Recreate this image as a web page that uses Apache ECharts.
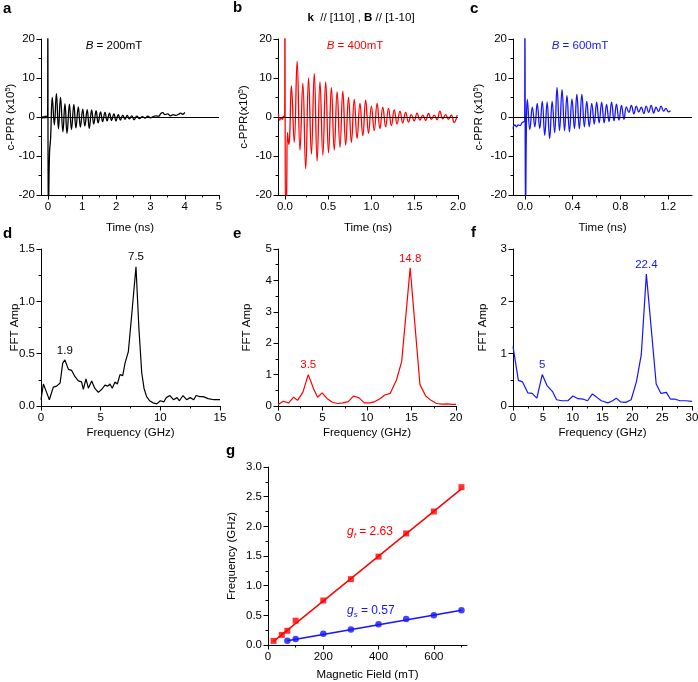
<!DOCTYPE html>
<html><head><meta charset="utf-8">
<script src="https://cdn.jsdelivr.net/npm/echarts@6/dist/echarts.min.js"></script>
<style>html,body{margin:0;padding:0;background:#fff}#c{width:698px;height:682px}</style>
</head><body><div id="c"></div>
<script>
// ---------------- DATA ----------------
// (a) time trace, B = 200 mT  [time (ns), c-PPR (x1e5)]
const traceA = [[-0.17,-0.4],[-0.14,0.1],[-0.11,-0.3],[-0.08,0.2],[-0.05,-0.2],[-0.02,0.3],[-0.005,0.5],[0.0,30],[0.012,-30],[0.03,-18],[0.05,-9],[0.08,-5.5],
 [0.13,5],[0.19,-2],[0.25,6],[0.31,-3],[0.37,5],[0.44,-3.8],[0.50,3.4],[0.56,-4.2],[0.63,3.3],[0.69,-3.2],[0.76,3.2],[0.82,-2.8],[0.89,2.6],[0.95,-2.6],
 [1.02,2.0],[1.08,-2.3],[1.15,1.9],[1.21,-2.9],[1.28,1.8],[1.34,-1.8],[1.41,1.6],[1.47,-1.5],[1.54,1.3],[1.60,-1.2],[1.67,1.2],[1.73,-1.0],[1.80,1.0],
 [1.86,-0.9],[1.93,0.8],[1.99,-1.0],[2.06,0.6],[2.12,-0.8],[2.19,0.5],[2.25,-0.6],[2.32,0.4],[2.38,-0.5],[2.45,0.3],[2.52,-0.7],[2.6,0.2],[2.68,-0.4],
 [2.76,0.1],[2.84,-0.3],[2.92,0.2],[3.0,-0.2],[3.08,0.1],[3.16,0.3],[3.24,0.2],[3.3,0.9],[3.36,1.1],[3.42,0.6],[3.5,0.8],[3.58,0.3],[3.66,0.6],[3.74,0.4],
 [3.82,0.7],[3.88,1.0],[3.94,0.7],[4.0,1.2]];
// (b) time trace, B = 400 mT
const traceB = [[-0.075,0.8],[-0.06,-0.8],[-0.045,-0.2],[-0.03,-0.6],[-0.015,0.2],[-0.003,0.0],[0.0,30],[0.008,-30],[0.02,-19],[0.03,-4],[0.045,-7],[0.055,-5],
 [0.075,8],[0.108,-6.5],[0.141,14.3],[0.174,-8.5],[0.207,8.7],[0.240,-13.3],[0.273,10],[0.306,-9.5],[0.339,11.2],[0.372,-11.3],[0.405,9],[0.438,-9.8],
 [0.471,9],[0.504,-9.2],[0.537,7.5],[0.570,-8.5],[0.603,6.5],[0.636,-7.8],[0.669,6.6],[0.702,-7.2],[0.735,5],[0.768,-6.5],[0.801,4.5],[0.834,-5.5],
 [0.867,3.5],[0.900,-4.8],[0.933,4.3],[0.966,-4.2],[0.999,2.8],[1.032,-3.5],[1.065,3.5],[1.098,-3.0],[1.131,2.5],[1.164,-2.5],[1.197,2.2],[1.230,-2.2],
 [1.263,1.8],[1.296,-1.8],[1.329,1.5],[1.362,-1.5],[1.395,1.2],[1.428,-1.3],[1.461,0.6],[1.494,-1.0],[1.527,1.0],[1.560,-0.8],[1.593,0.5],[1.626,-0.9],
 [1.659,0.9],[1.692,-0.6],[1.725,0.5],[1.758,-0.7],[1.791,1.5],[1.824,-0.5],[1.857,0.6],[1.890,-0.6],[1.923,0.5],[1.956,-1.4],[1.99,0.5]];
// (c) time trace, B = 600 mT
const traceC = [[-0.1,-3.0],[-0.085,-2.0],[-0.07,-2.5],[-0.055,-2.0],[-0.04,-2.2],[-0.025,-1.5],[-0.01,-1.2],[-0.002,-1.0],[0.0,30],[0.005,-30],[0.012,-2.5],
 [0.020,4.5],[0.041,-3.2],[0.062,2.5],[0.083,-2.5],[0.103,3.5],[0.124,-3.0],[0.145,4.0],[0.166,-4.7],[0.186,3.8],[0.207,-5.5],[0.228,4.0],[0.249,-4.0],
 [0.269,7.5],[0.290,-3.5],[0.311,7.0],[0.332,-3.5],[0.352,5.5],[0.373,-3.8],[0.394,4.6],[0.415,-3.0],[0.435,5.8],[0.456,-3.0],[0.477,5.8],[0.498,-2.5],
 [0.518,4.0],[0.539,-2.5],[0.560,3.5],[0.581,-1.8],[0.601,3.8],[0.622,-1.5],[0.643,3.8],[0.664,-1.5],[0.684,3.2],[0.705,-1.2],[0.726,3.8],[0.747,-1.0],
 [0.767,3.3],[0.788,-0.8],[0.809,3.0],[0.830,-0.6],[0.850,2.6],[0.871,1.2],[0.892,3.0],[0.913,0.8],[0.933,2.8],[0.954,1.3],[0.975,2.5],[0.996,0.9],
 [1.016,2.8],[1.037,1.2],[1.058,3.0],[1.079,1.0],[1.099,2.5],[1.120,1.4],[1.141,2.8],[1.162,1.5],[1.182,2.2],[1.203,1.3],[1.22,1.6]];

// (d,e,f) FFT spectra  [frequency (GHz), FFT amp]
const fftD = [[0,0.06],[0.2,0.21],[0.47,0.13],[0.7,0.06],[1.03,0.18],[1.31,0.19],[1.6,0.22],[1.82,0.41],[2.0,0.44],[2.15,0.43],[2.3,0.35],[2.57,0.34],
 [2.85,0.28],[3.13,0.24],[3.4,0.23],[3.55,0.16],[3.77,0.26],[3.97,0.17],[4.25,0.24],[4.5,0.17],[4.8,0.13],[5.1,0.16],[5.36,0.2],[5.6,0.19],[5.78,0.21],
 [5.97,0.17],[6.2,0.23],[6.4,0.21],[6.62,0.3],[6.85,0.29],[7.04,0.41],[7.32,0.52],[7.6,0.87],[7.96,1.33],[8.2,0.75],[8.44,0.32],[8.63,0.17],[8.85,0.09],
 [9.1,0.05],[9.4,0.03],[9.7,0.02],[10.0,0.05],[10.3,0.04],[10.5,0.08],[10.8,0.1],[11.1,0.06],[11.4,0.08],[11.6,0.05],[11.9,0.1],[12.2,0.06],[12.5,0.08],
 [12.8,0.06],[13.0,0.1],[13.3,0.09],[13.6,0.09],[14.0,0.07],[14.5,0.06],[15,0.06]];
const fftE = [[0,0.05],[0.6,0.15],[1.2,0.1],[1.75,0.28],[2.2,0.18],[2.8,0.44],[3.4,1.0],[4.0,0.55],[4.45,0.28],[4.95,0.42],[5.5,0.24],[6.1,0.12],[6.7,0.08],
 [7.3,0.1],[7.9,0.14],[8.5,0.32],[9.1,0.26],[9.7,0.1],[10.3,0.1],[10.9,0.14],[11.5,0.24],[12.0,0.35],[12.6,0.4],[13.3,0.82],[13.9,1.42],[14.85,4.4],
 [15.95,0.68],[16.6,0.32],[17.2,0.18],[17.8,0.08],[18.4,0.06],[19.0,0.07],[19.6,0.05],[20,0.05]];
const fftF = [[0,1.14],[0.9,0.49],[1.6,0.46],[2.5,0.25],[3.2,0.24],[4.0,0.15],[4.9,0.6],[5.7,0.39],[6.6,0.28],[7.3,0.12],[8.2,0.1],[9.2,0.1],[10.05,0.19],
 [10.9,0.14],[11.8,0.13],[12.5,0.1],[13.3,0.23],[14.0,0.17],[14.8,0.1],[15.9,0.06],[16.7,0.1],[17.3,0.15],[18.0,0.08],[18.9,0.07],[19.8,0.12],[20.7,0.47],
 [21.5,0.98],[22.35,2.52],[24.0,0.42],[24.8,0.24],[25.7,0.26],[26.4,0.13],[27.2,0.13],[28.0,0.1],[29.0,0.1],[30,0.09]];
// peak annotations: [frequency of peak point, label]
const peaksD = [[2.0,'1.9'],[7.96,'7.5']];
const peaksE = [[3.4,'3.5'],[14.85,'14.8']];
const peaksF = [[4.9,'5'],[22.35,'22.4']];

// (g) frequency vs magnetic field
const fieldF = [20,50,70,100,200,300,400,500,600,700];
const freqF  = [0.07,0.17,0.24,0.41,0.75,1.11,1.49,1.88,2.25,2.66];
const fieldS = [70,100,200,300,400,500,600,700];
const freqS  = [0.07,0.10,0.19,0.26,0.35,0.44,0.50,0.585];
const fitF = [[20,0.06],[700,2.63]];
const fitS = [[70,0.07],[700,0.585]];

// tick values
const ticksA = [0,1,2,3,4,5], minorA = [0.5,1.5,2.5,3.5,4.5];
const ticksB = [0,0.5,1,1.5,2], minorB = [0.25,0.75,1.25,1.75];
const ticksC = [0,0.4,0.8,1.2], minorC = [0.2,0.6,1.0];
const ticksTopY = [-20,-10,0,10,20], minorTopY = [-15,-5,5,15];
const ticksD = [0,5,10,15], minorD = [2.5,7.5,12.5];
const ticksE = [0,5,10,15,20], minorE = [2.5,7.5,12.5,17.5];
const ticksF = [0,5,10,15,20,25,30], minorF = [2.5,7.5,12.5,17.5,22.5,27.5];
const ticksDY = [0,0.5,1,1.5], minorDY = [0.25,0.75,1.25];
const ticksEY = [0,1,2,3,4,5], minorEY = [0.5,1.5,2.5,3.5,4.5];
const ticksFY = [0,1,2,3], minorFY = [0.5,1.5,2.5];
const ticksG = [0,200,400,600], minorG = [100,300,500,700];
const ticksGY = [0,0.5,1,1.5,2,2.5,3], minorGY = [0.25,0.75,1.25,1.75,2.25,2.75];

// ---------------- CHART ----------------
const FONT = "'Liberation Sans', Arial, Helvetica, sans-serif";
const RED = '#ff0000', BLUE = '#1414ff', BLK = '#000000';
const FS = 11.5;
const grids = [
  {left:41, top:39, width:178, height:156},
  {left:278, top:39, width:180, height:156},
  {left:513, top:39, width:179, height:156},
  {left:41, top:249, width:179, height:157},
  {left:278, top:249, width:178, height:157},
  {left:513, top:249, width:179, height:157},
  {left:268, top:467, width:199, height:178}
].map(g => Object.assign({outerBoundsMode:'none', containLabel:false}, g));

const xAxes = [], yAxes = [];
const supRich = {
  t:{fontSize:FS, fontFamily:FONT, color:'#000', lineHeight:14},
  s:{fontSize:7.5, fontFamily:FONT, color:'#000', verticalAlign:'top', lineHeight:14}
};
function addAxis(list, dim, gi, min, max, majors, minors, digits, name, gap) {
  const pos = dim === 'x' ? 'bottom' : 'left';
  const idx = list.length;
  list.push({
    type:'value', gridIndex:gi, min, max, position:pos,
    axisLine:{show:true, onZero:false, lineStyle:{color:'#000', width:1}},
    axisTick:{show:true, length:4.5, customValues:majors, lineStyle:{color:'#000', width:1}},
    axisLabel:{show:true, customValues:majors, color:'#000', fontSize:FS, fontFamily:FONT, margin:6,
      formatter: v => (digits > 0 ? Number(v).toFixed(digits) : String(Math.round(v)))},
    splitLine:{show:false},
    name: name, nameLocation:'middle', nameGap:gap, nameMoveOverlap:false,
    nameTextStyle:{color:'#000', fontSize:FS, fontFamily:FONT, rich:supRich}
  });
  list.push({
    type:'value', gridIndex:gi, min, max, position:pos,
    axisLine:{show:false, onZero:false},
    axisTick:{show:true, length:2.5, customValues:minors, lineStyle:{color:'#000', width:1}},
    axisLabel:{show:false}, splitLine:{show:false}
  });
  return idx;
}
const pprName = '{t|c-PPR (x10}{s|5}{t|)}';
const pprNameB = '{t|c-PPR(x10}{s|5}{t|)}';
const ax = [], ay = [];
ax[0] = addAxis(xAxes,'x',0,-0.2,5.0,ticksA,minorA,0,'Time (ns)',27);
ay[0] = addAxis(yAxes,'y',0,-20,20,ticksTopY,minorTopY,0,pprName,23);
ax[1] = addAxis(xAxes,'x',1,-0.08,2.0,ticksB,minorB,1,'Time (ns)',27);
ay[1] = addAxis(yAxes,'y',1,-20,20,ticksTopY,minorTopY,0,pprNameB,27);
ax[2] = addAxis(xAxes,'x',2,-0.1,1.4,ticksC,minorC,1,'Time (ns)',27);
ay[2] = addAxis(yAxes,'y',2,-20,20,ticksTopY,minorTopY,0,pprName,27);
ax[3] = addAxis(xAxes,'x',3,0,15,ticksD,minorD,0,'Frequency (GHz)',21);
ay[3] = addAxis(yAxes,'y',3,0,1.5,ticksDY,minorDY,1,'FFT Amp',20);
ax[4] = addAxis(xAxes,'x',4,0,20,ticksE,minorE,0,'Frequency (GHz)',21);
ay[4] = addAxis(yAxes,'y',4,0,5,ticksEY,minorEY,0,'FFT Amp',25);
ax[5] = addAxis(xAxes,'x',5,0,30,ticksF,minorF,0,'Frequency (GHz)',21);
ay[5] = addAxis(yAxes,'y',5,0,3,ticksFY,minorFY,0,'FFT Amp',24);
ax[6] = addAxis(xAxes,'x',6,0,720,ticksG,minorG,0,'Magnetic Field (mT)',24);
ay[6] = addAxis(yAxes,'y',6,0,3,ticksGY,minorGY,1,'Frequency (GHz)',30);

const zeroLine = {silent:true, symbol:['none','none'], label:{show:false},
  lineStyle:{color:'#000', width:1, type:'solid'}, emphasis:{disabled:true}, data:[{yAxis:0}]};

function traceSeries(i, data, color) {
  return {type:'line', xAxisIndex:ax[i], yAxisIndex:ay[i], data:data, showSymbol:false, symbol:'none',
    smooth:0.45, lineStyle:{color:color, width:1.3}, itemStyle:{color:color}, markLine:zeroLine, z:3};
}
function fftSeries(i, data, peaks, color) {
  const mp = peaks.map(pk => {
    const p = data.find(q => q[0] === pk[0]);
    return {coord:p, label:{show:true, position:'top', distance:3, formatter:pk[1], color:color,
      fontSize:FS, fontFamily:FONT}};
  });
  return {type:'line', xAxisIndex:ax[i], yAxisIndex:ay[i], data:data, showSymbol:false, symbol:'none',
    lineStyle:{color:color, width:1.2}, itemStyle:{color:color},
    markPoint:{symbol:'circle', symbolSize:1, silent:true, itemStyle:{color:'rgba(0,0,0,0)'}, data:mp}};
}

const series = [
  traceSeries(0, traceA, BLK),
  traceSeries(1, traceB, RED),
  traceSeries(2, traceC, BLUE),
  fftSeries(3, fftD, peaksD, BLK),
  fftSeries(4, fftE, peaksE, RED),
  fftSeries(5, fftF, peaksF, BLUE),
  {type:'line', xAxisIndex:ax[6], yAxisIndex:ay[6], data:fitF, showSymbol:false, symbol:'none',
    lineStyle:{color:RED, width:1.5}},
  {type:'line', xAxisIndex:ax[6], yAxisIndex:ay[6], data:fitS, showSymbol:false, symbol:'none',
    lineStyle:{color:BLUE, width:1.5}},
  {type:'scatter', xAxisIndex:ax[6], yAxisIndex:ay[6], data:fieldF.map((x,k)=>[x,freqF[k]]),
    symbol:'rect', symbolSize:6, itemStyle:{color:RED}, z:4},
  {type:'scatter', xAxisIndex:ax[6], yAxisIndex:ay[6], data:fieldS.map((x,k)=>[x,freqS[k]]),
    symbol:'circle', symbolSize:6.5, itemStyle:{color:BLUE}, z:4}
];

function letter(t, x, y) {
  return {type:'text', x:x, y:y, style:{text:t, fontSize:15, fontWeight:'bold', fontFamily:FONT, fill:'#000',
    align:'left', verticalAlign:'top'}};
}
function note(text, x, y, color, align, extraRich) {
  const rich = Object.assign({
    i:{fontStyle:'italic', fontSize:FS, fontFamily:FONT, fill:color, color:color},
    n:{fontSize:FS, fontFamily:FONT, fill:color, color:color},
    b:{fontWeight:'bold', fontSize:FS, fontFamily:FONT, fill:color, color:color}
  }, extraRich || {});
  return {type:'text', x:x, y:y, style:{text:text, rich:rich, fontSize:FS, fontFamily:FONT, fill:color,
    align:align || 'center', verticalAlign:'middle'}};
}
const subRich = c => ({
  gi:{fontStyle:'italic', fontSize:12, fontFamily:FONT, fill:c, color:c, lineHeight:15},
  sb:{fontStyle:'italic', fontSize:8, fontFamily:FONT, fill:c, color:c, verticalAlign:'bottom', lineHeight:15},
  nn:{fontSize:12, fontFamily:FONT, fill:c, color:c, lineHeight:15}
});

const graphic = [
  letter('a', 3, 1), letter('b', 233, 0), letter('c', 470, 1),
  letter('d', 3, 226), letter('e', 233, 226), letter('f', 471, 225), letter('g', 226, 443),
  note('{b|k}{n|  // [110] , }{b|B}{n| // [1-10]}', 361, 18, '#000'),
  note('{i|B}{n| = 200mT}', 114, 46, BLK),
  note('{i|B}{n| = 400mT}', 355, 46, RED),
  note('{i|B}{n| = 600mT}', 580, 46, BLUE),
  note('{gi|g}{sb|f}{nn| = 2.63}', 347, 532, RED, 'left', subRich(RED)),
  note('{gi|g}{sb|s}{nn| = 0.57}', 347, 611, BLUE, 'left', subRich(BLUE))
];

const chart = echarts.init(document.getElementById('c'), null, {renderer:'canvas'});
chart.setOption({
  animation:false,
  backgroundColor:'#ffffff',
  textStyle:{fontFamily:FONT},
  grid:grids, xAxis:xAxes, yAxis:yAxes, series:series, graphic:graphic
});
</script></body></html>
